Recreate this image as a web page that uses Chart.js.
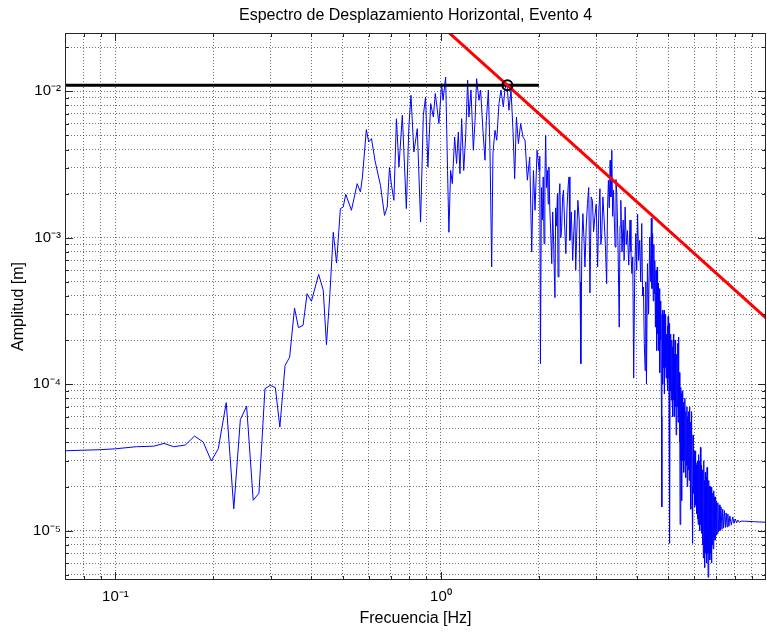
<!DOCTYPE html>
<html>
<head>
<meta charset="utf-8">
<title>Espectro de Desplazamiento Horizontal, Evento 4</title>
<script src="https://cdn.jsdelivr.net/npm/chart.js@4.4.0/dist/chart.umd.min.js"></script>
<style>
  html, body { margin: 0; padding: 0; background: #fff; }
  #wrap { width: 767px; height: 634px; }
</style>
</head>
<body>
<div id="wrap"><canvas id="espectro" width="767" height="634"></canvas></div>
<script>
// Espectro de desplazamiento
var chartTitle = 'Espectro de Desplazamiento Horizontal, Evento 4';

// tramo bajo: 0.07 - 0.35 Hz
var lowFreq = [
  0.070, 0.090, 0.100, 0.116, 0.131, 0.141, 0.151, 0.164, 0.175, 0.186, 0.197, 0.207,
  0.219, 0.231, 0.242, 0.253, 0.265, 0.276, 0.288, 0.299, 0.310, 0.320, 0.332, 0.343
];
var lowAmp = [
  3.51e-5, 3.57e-5, 3.62e-5, 3.74e-5, 3.77e-5, 3.94e-5, 3.74e-5, 3.84e-5, 4.42e-5, 4.03e-5, 2.99e-5, 3.62e-5,
  7.48e-5, 1.41e-5, 5.73e-5, 7.08e-5, 1.61e-5, 1.80e-5, 9.31e-5, 9.82e-5, 9.47e-5, 5.09e-5, 1.34e-4, 1.53e-4
];

// tramo medio: 0.35 - 2.0 Hz
var midFreq = [
  0.355, 0.365, 0.377, 0.388, 0.400, 0.421, 0.435, 0.445, 0.456, 0.467, 0.478, 0.491,
  0.501, 0.510, 0.531, 0.553, 0.566, 0.574, 0.590, 0.600, 0.612, 0.627, 0.652, 0.671,
  0.684, 0.695, 0.705, 0.717, 0.730, 0.743, 0.761, 0.783, 0.797, 0.809, 0.826, 0.846,
  0.866, 0.883, 0.897, 0.912, 0.930, 0.948, 0.961, 0.986, 1.005, 1.015, 1.034, 1.048,
  1.058, 1.071, 1.084, 1.102, 1.117, 1.131, 1.144, 1.158, 1.175, 1.191, 1.208, 1.219,
  1.237, 1.258, 1.273, 1.287, 1.309, 1.324, 1.346, 1.366, 1.379, 1.399, 1.415, 1.432,
  1.445, 1.466, 1.484, 1.508, 1.529, 1.555, 1.573, 1.595, 1.618, 1.642, 1.665, 1.685,
  1.706, 1.730, 1.758, 1.787, 1.813, 1.843, 1.874, 1.901, 1.924, 1.946, 1.974, 2.003
];
var midAmp = [
  3.31e-4, 2.43e-4, 2.52e-4, 4.15e-4, 3.68e-4, 5.62e-4, 4.38e-4, 1.86e-4, 4.15e-4, 1.09e-3, 6.71e-4, 1.58e-3,
  1.62e-3, 1.98e-3, 1.54e-3, 2.34e-3, 2.05e-3, 2.60e-3, 5.47e-3, 4.51e-3, 4.75e-3, 3.38e-3, 2.28e-3, 1.42e-3,
  1.62e-3, 3.01e-3, 2.28e-3, 1.80e-3, 6.50e-3, 3.04e-3, 6.86e-3, 1.58e-3, 5.71e-3, 9.39e-3, 3.85e-3, 5.56e-3,
  1.28e-3, 6.86e-3, 9.14e-3, 3.04e-3, 8.24e-3, 6.67e-3, 9.65e-3, 6.02e-3, 1.13e-2, 8.68e-3, 1.25e-2, 2.88e-3,
  1.09e-3, 2.88e-3, 2.34e-3, 4.87e-3, 3.21e-3, 5.27e-3, 2.74e-3, 6.50e-3, 2.88e-3, 4.87e-3, 1.19e-2, 6.67e-3,
  1.02e-2, 3.95e-3, 6.33e-3, 1.22e-2, 8.68e-3, 1.02e-2, 5.42e-3, 3.38e-3, 6.33e-3, 1.02e-2, 3.95e-3, 6.31e-4,
  3.75e-3, 5.42e-3, 4.63e-3, 8.24e-3, 1.02e-2, 7.82e-3, 1.04e-2, 1.13e-2, 7.42e-3, 1.02e-2, 5.42e-3, 2.53e-3,
  6.67e-3, 4.39e-3, 6.02e-3, 4.87e-3, 4.63e-3, 2.47e-3, 3.56e-3, 7.98e-4, 2.88e-3, 1.54e-3, 3.95e-3, 2.88e-3
];

// tramo de caida: 2.0 - 4.65 Hz
var fallFreq = [
  2.012, 2.022, 2.036, 2.050, 2.062, 2.074, 2.086, 2.098, 2.111, 2.124,
  2.136, 2.147, 2.160, 2.175, 2.190, 2.205, 2.220, 2.240, 2.252, 2.265,
  2.280, 2.290, 2.305, 2.320, 2.335, 2.350, 2.365, 2.380, 2.400, 2.420,
  2.440, 2.460, 2.475, 2.490, 2.515, 2.540, 2.560, 2.580, 2.595, 2.610,
  2.635, 2.660, 2.675, 2.690, 2.710, 2.730, 2.750, 2.770, 2.795, 2.820,
  2.845, 2.870, 2.895, 2.920, 2.945, 2.970, 3.000, 3.030, 3.055, 3.080,
  3.100, 3.120, 3.145, 3.170, 3.200, 3.230, 3.250, 3.270, 3.290, 3.310,
  3.330, 3.350, 3.370, 3.390, 3.410, 3.430, 3.450, 3.470, 3.500, 3.530,
  3.550, 3.570, 3.600, 3.630, 3.655, 3.680, 3.710, 3.740, 3.775, 3.810,
  3.835, 3.860, 3.885, 3.910, 3.940, 3.970, 3.995, 4.020, 4.050, 4.080,
  4.110, 4.140, 4.165, 4.190, 4.215, 4.240, 4.260, 4.280, 4.310, 4.345,
  4.380, 4.410, 4.430, 4.450, 4.470, 4.490, 4.510, 4.520, 4.540, 4.560,
  4.580, 4.600, 4.620, 4.630, 4.650
];
var fallAmp = [
  3.6e-3, 1.38e-4, 2.2e-3, 1.32e-3, 2.6e-3, 9.12e-4, 2.4e-3, 5.0e-3, 2.2e-3, 2.88e-3,
  1.7e-3, 3.04e-3, 1.6e-3, 1.07e-3, 6.65e-4, 1.5e-3, 9.0e-4, 3.9e-4, 1.6e-3, 1.2e-3,
  2.0e-3, 5.4e-4, 1.9e-3, 2.34e-3, 1.0e-3, 1.18e-3, 1.9e-3, 2.11e-3, 1.2e-3, 7.78e-4,
  1.6e-3, 2.28e-3, 2.6e-3, 9.59e-4, 1.5e-3, 7.01e-4, 1.1e-3, 1.54e-3, 6.0e-4, 9.59e-4,
  1.8e-3, 1.32e-3, 5.0e-4, 1.38e-4, 9.0e-4, 1.46e-3, 1.0e-3, 6.31e-4, 1.2e-3, 1.71e-3,
  2.2e-3, 4.2e-4, 1.9e-3, 1.8e-3, 1.1e-3, 1.38e-3, 1.7e-3, 6.31e-4, 1.5e-3, 2.16e-3,
  9.0e-4, 1.07e-3, 1.9e-3, 1.38e-3, 9.0e-4, 4.85e-4, 1.6e-3, 2.47e-3, 1.6e-3, 3.38e-3,
  1.9e-3, 3.95e-3, 1.4e-3, 2.11e-3, 1.3e-3, 8.63e-4, 2.5e-3, 1.99e-3, 9.0e-4, 2.45e-4,
  1.2e-3, 1.8e-3, 8.0e-4, 1.32e-3, 7.0e-4, 1.62e-3, 9.0e-4, 1.12e-3, 6.5e-4, 1.32e-3,
  8.0e-4, 5.69e-4, 7.4e-4, 1.1e-4, 6.0e-4, 1.07e-3, 6.0e-4, 1.45e-3, 7.0e-4, 9.59e-4,
  5.0e-4, 1.25e-3, 4.0e-4, 4.61e-4, 1.9e-4, 1.24e-4, 5.0e-4, 1.0e-4, 6.65e-4, 3.0e-4,
  1.01e-3, 5.0e-4, 1.36e-3, 4.5e-4, 1.07e-3, 3.7e-4, 9.0e-4, 4.15e-4, 7.0e-4, 2.45e-4,
  5.98e-4, 1.7e-4, 6.3e-4, 2.2e-4, 4.9e-4
];

// tramo ruidoso final: 4.66 - 9.97 Hz
var tailFreq = [
  4.66, 4.68, 4.69, 4.70, 4.71, 4.72, 4.73, 4.74, 4.76, 4.77,
  4.78, 4.79, 4.80, 4.81, 4.83, 4.84, 4.85, 4.86, 4.88, 4.89,
  4.91, 4.92, 4.93, 4.95, 4.96, 4.98, 4.99, 5.00, 5.01, 5.02,
  5.03, 5.05, 5.06, 5.07, 5.09, 5.10, 5.12, 5.13, 5.15, 5.16,
  5.18, 5.19, 5.21, 5.22, 5.24, 5.25, 5.27, 5.28, 5.30, 5.32,
  5.34, 5.35, 5.37, 5.38, 5.40, 5.42, 5.43, 5.45, 5.46, 5.48,
  5.49, 5.51, 5.53, 5.55, 5.57, 5.59, 5.61, 5.62, 5.64, 5.66,
  5.68, 5.70, 5.71, 5.73, 5.75, 5.77, 5.79, 5.81, 5.83, 5.85,
  5.86, 5.89, 5.91, 5.93, 5.95, 5.97, 6.00, 6.02, 6.04, 6.06,
  6.08, 6.10, 6.12, 6.14, 6.15, 6.17, 6.19, 6.21, 6.23, 6.25,
  6.27, 6.29, 6.30, 6.32, 6.34, 6.36, 6.38, 6.40, 6.42, 6.44,
  6.45, 6.47, 6.49, 6.51, 6.53, 6.55, 6.57, 6.59, 6.60, 6.62,
  6.64, 6.66, 6.68, 6.70, 6.72, 6.74, 6.76, 6.78, 6.80, 6.82,
  6.84, 6.86, 6.88, 6.90, 6.92, 6.95, 6.97, 7.00, 7.02, 7.05,
  7.09, 7.12, 7.16, 7.20, 7.25, 7.30, 7.34, 7.38, 7.43, 7.48,
  7.52, 7.57, 7.61, 7.67, 7.72, 7.80, 7.88, 7.95, 8.02, 8.10,
  8.17, 8.26, 8.36, 8.56, 9.18, 9.97
];
var tailAmp = [
  1.7e-4, 3.9e-4, 1.5e-4, 4.5e-4, 1.2e-4, 3.7e-4, 2.0e-4, 3.3e-4, 6.0e-5, 1.45e-5,
  3.0e-4, 1.3e-4, 3.2e-4, 1.0e-4, 3.0e-4, 1.3e-4, 3.2e-4, 8.6e-5, 2.8e-4, 1.3e-4,
  3.0e-4, 1.1e-4, 2.2e-4, 1.2e-4, 2.5e-4, 9.0e-5, 2.9e-4, 1.1e-4, 2.4e-4, 8.0e-5,
  2.6e-4, 8.2e-6, 2.0e-4, 9.0e-5, 2.2e-4, 7.8e-5, 2.0e-4, 8.0e-5, 1.8e-4, 6.0e-5,
  2.2e-4, 7.8e-5, 1.6e-4, 6.0e-5, 2.0e-4, 7.0e-5, 1.5e-4, 4.5e-5, 1.6e-4, 7.0e-5,
  1.9e-4, 5.5e-5, 2.1e-4, 6.0e-5, 1.2e-4, 4.0e-5, 1.1e-5, 9.5e-5, 3.0e-5, 8.6e-5,
  1.6e-5, 9.0e-5, 3.0e-5, 7.5e-5, 2.5e-5, 7.0e-5, 3.0e-5, 8.0e-5, 2.3e-5, 6.5e-5,
  2.8e-5, 7.0e-5, 2.0e-5, 6.0e-5, 2.6e-5, 6.5e-5, 2.2e-5, 7.0e-5, 2.5e-5, 5.5e-5,
  1.4e-5, 6.5e-5, 2.0e-5, 8.2e-6, 4.5e-5, 1.8e-5, 3.5e-5, 1.45e-5, 3.5e-5, 1.5e-5,
  2.8e-5, 1.3e-5, 2.9e-5, 1.2e-5, 3.0e-5, 1.1e-5, 3.3e-5, 1.2e-5, 3.0e-5, 1.0e-5,
  3.7e-5, 1.1e-5, 2.8e-5, 9.6e-6, 2.6e-5, 8.0e-6, 2.4e-5, 6.5e-6, 3.0e-5, 7.5e-6,
  2.2e-5, 5.6e-6, 2.5e-5, 7.0e-6, 2.3e-5, 6.0e-6, 2.7e-5, 7.0e-6, 2.1e-5, 4.8e-6,
  2.2e-5, 7.0e-6, 2.0e-5, 6.3e-6, 2.0e-5, 7.0e-6, 1.9e-5, 6.0e-6, 1.98e-5, 8.0e-6,
  1.8e-5, 7.5e-6, 1.87e-5, 9.0e-6, 1.7e-5, 8.6e-6, 1.7e-5, 9.3e-6, 1.6e-5, 9.5e-6,
  1.55e-5, 9.8e-6, 1.5e-5, 1.0e-5, 1.45e-5, 1.02e-5, 1.4e-5, 1.04e-5, 1.37e-5, 1.05e-5,
  1.32e-5, 1.06e-5, 1.3e-5, 1.07e-5, 1.26e-5, 1.09e-5, 1.24e-5, 1.12e-5, 1.2e-5, 1.13e-5,
  1.18e-5, 1.14e-5, 1.16e-5, 1.16e-5, 1.15e-5, 1.14e-5
];

// recta horizontal, recta de pendiente -2 y punto de esquina
var plateauFreq = [0.07, 2.0];
var plateauAmp = [0.011, 0.011];
var slopeFreq = [1.0, 10.0];
var slopeAmp = [0.02816, 0.0002816];
var cornerFreq = [1.6];
var cornerAmp = [0.011];

// ejes
var xLimits = [0.07, 9.97];
var yLimits = [4.6e-6, 0.025];
var xDecades = [0.1, 1];
var xTickLabels = ['10\u207B\u00B9', '10\u2070'];
var yDecades = [1e-5, 1e-4, 1e-3, 1e-2];
var yTickLabels = ['10\u207B\u2075', '10\u207B\u2074', '10\u207B\u00B3', '10\u207B\u00B2'];

function pts(xs, ys) {
  return xs.map(function (x, i) { return {x: x, y: ys[i]}; });
}

// 1..9 x 10^n inside the limits, like a matlab log grid
function logTicks(lim) {
  var out = [];
  var d = Math.pow(10, Math.floor(Math.log10(lim[0])));
  while (d <= lim[1]) {
    for (var m = 1; m <= 9; m++) {
      var v = +(m * d).toPrecision(4);
      if (v >= lim[0] && v <= lim[1]) out.push({value: v});
    }
    d *= 10;
  }
  return out;
}

function decadeLabel(value, decades, labels) {
  for (var i = 0; i < decades.length; i++) {
    if (Math.abs(Math.log10(value / decades[i])) < 1e-6) return labels[i];
  }
  return '';
}

var spectrum = pts(lowFreq, lowAmp)
  .concat(pts(midFreq, midAmp))
  .concat(pts(fallFreq, fallAmp))
  .concat(pts(tailFreq, tailAmp));

Chart.defaults.font.family = "'Liberation Sans', Arial, Helvetica, sans-serif";
Chart.defaults.color = '#000';

// caja y marcas interiores (matlab: box on)
var boxPlugin = {
  id: 'matlabBox',
  afterDraw: function (chart) {
    var ctx = chart.ctx, a = chart.chartArea;
    var xs = chart.scales.x, ys = chart.scales.y;
    ctx.save();
    ctx.strokeStyle = '#262626';
    ctx.lineWidth = 1;
    ctx.beginPath();
    xs.ticks.forEach(function (t) {
      var px = Math.round(xs.getPixelForValue(t.value)) + 0.5;
      var len = decadeLabel(t.value, xDecades, xTickLabels) ? 8 : 4;
      ctx.moveTo(px, a.bottom); ctx.lineTo(px, a.bottom - len);
      ctx.moveTo(px, a.top); ctx.lineTo(px, a.top + len);
    });
    ys.ticks.forEach(function (t) {
      var py = Math.round(ys.getPixelForValue(t.value)) + 0.5;
      var len = decadeLabel(t.value, yDecades, yTickLabels) ? 8 : 4;
      ctx.moveTo(a.left, py); ctx.lineTo(a.left + len, py);
      ctx.moveTo(a.right, py); ctx.lineTo(a.right - len, py);
    });
    ctx.stroke();
    ctx.strokeRect(a.left + 0.5, a.top + 0.5, a.right - a.left - 1, a.bottom - a.top - 1);
    ctx.restore();
  }
};

var ctx = document.getElementById('espectro').getContext('2d');
var chart = new Chart(ctx, {
  type: 'line',
  data: {
    datasets: [
      {
        label: 'Esquina',
        data: pts(cornerFreq, cornerAmp),
        showLine: false,
        pointRadius: 5,
        pointBorderWidth: 2,
        pointBorderColor: '#000',
        pointBackgroundColor: 'rgba(0,0,0,0)'
      },
      {
        label: 'Pendiente',
        data: pts(slopeFreq, slopeAmp),
        borderColor: '#ff0000',
        borderWidth: 3,
        pointRadius: 0,
        clip: 0
      },
      {
        label: 'Meseta',
        data: pts(plateauFreq, plateauAmp),
        borderColor: '#000',
        borderWidth: 3,
        pointRadius: 0,
        clip: 0
      },
      {
        label: 'Espectro',
        data: spectrum,
        borderColor: '#0000ff',
        borderWidth: 1,
        pointRadius: 0,
        clip: 0
      }
    ]
  },
  options: {
    responsive: false,
    animation: false,
    events: [],
    elements: { line: { tension: 0, fill: false } },
    layout: { autoPadding: false, padding: { top: 0, right: 1, bottom: 0, left: 0 } },
    plugins: {
      legend: { display: false },
      tooltip: { enabled: false },
      title: {
        display: true,
        text: chartTitle,
        fullSize: false,
        color: '#000',
        font: { size: 16, weight: 'normal', lineHeight: 1.2 },
        padding: { top: 6, bottom: 7.8 }
      }
    },
    scales: {
      x: {
        type: 'logarithmic',
        min: xLimits[0],
        max: xLimits[1],
        afterBuildTicks: function (scale) { scale.ticks = logTicks(xLimits); },
        afterFit: function (scale) { scale.height = 54; },
        ticks: {
          autoSkip: false,
          maxRotation: 0,
          minRotation: 0,
          padding: 8,
          font: { size: 15 },
          callback: function (value) { return decadeLabel(value, xDecades, xTickLabels); }
        },
        grid: { color: 'rgba(0,0,0,0.55)', lineWidth: 1, drawTicks: false },
        border: { display: false, dash: [1, 2] },
        title: {
          display: true,
          text: 'Frecuencia [Hz]',
          font: { size: 16 },
          padding: { top: 0, bottom: 6 }
        }
      },
      y: {
        type: 'logarithmic',
        min: yLimits[0],
        max: yLimits[1],
        afterBuildTicks: function (scale) { scale.ticks = logTicks(yLimits); },
        afterFit: function (scale) { scale.width = 65; },
        ticks: {
          autoSkip: false,
          padding: 4,
          font: { size: 15 },
          callback: function (value) { return decadeLabel(value, yDecades, yTickLabels); }
        },
        grid: { color: 'rgba(0,0,0,0.55)', lineWidth: 1, drawTicks: false },
        border: { display: false, dash: [1, 2] },
        title: {
          display: true,
          text: 'Amplitud [m]',
          font: { size: 16 },
          padding: { top: 9, bottom: 0 }
        }
      }
    }
  },
  plugins: [boxPlugin]
});
</script>
</body>
</html>
